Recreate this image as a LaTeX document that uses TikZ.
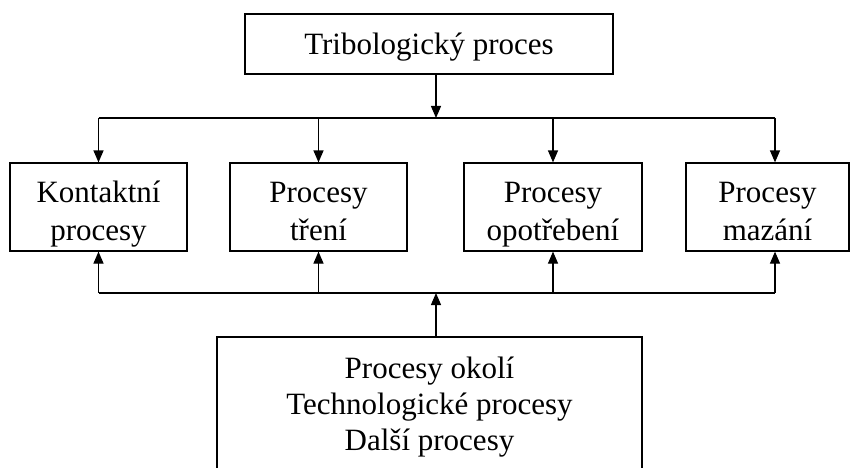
\documentclass[tikz,border=0pt]{standalone}
\usepackage{fontspec}
\setmainfont{Liberation Serif}
\usetikzlibrary{arrows.meta}
\newcommand{\firstln}[2]{\rule{0pt}{#1}\smash{#2}}
\newcommand{\lastln}[2]{\rule[-#1]{0pt}{#1}\smash{#2}}
\begin{document}
\begin{tikzpicture}[x=1pt,y=-1pt,
  box/.style={draw, line width=1.2pt, inner sep=0pt, align=center,
    font=\fontsize{31}{38}\selectfont},
  arr/.style={line width=1.2pt, -{Triangle[length=12pt,width=10pt]}},
  ln/.style={line width=1.2pt}]
\useasboundingbox (0,0) rectangle (851,468);
\fill[white] (0,0) rectangle (851,468);
\node[box, minimum width=368pt, minimum height=60pt] (top) at (429,44)
  {\rule[-4pt]{0pt}{30pt}\smash{Tribologický proces}};
\node[box, minimum width=177pt, minimum height=88pt] (b1) at (98.5,207)
  {\firstln{30pt}{Kontaktní}\\\lastln{2pt}{procesy}};
\node[box, minimum width=177pt, minimum height=88pt] (b2) at (318.5,207)
  {\firstln{30pt}{Procesy}\\\lastln{2pt}{tření}};
\node[box, minimum width=178pt, minimum height=88pt] (b3) at (553,207)
  {\firstln{30pt}{Procesy}\\\lastln{2pt}{opotřebení}};
\node[box, minimum width=163pt, minimum height=88pt] (b4) at (767.5,207)
  {\firstln{30pt}{Procesy}\\\lastln{2pt}{mazání}};
\node[box, font=\fontsize{31}{36}\selectfont, minimum width=425pt, minimum height=136pt] (bot) at (429.5,405)
  {\firstln{20pt}{Procesy okolí}\\Technologické procesy\\\lastln{2pt}{Další procesy}};
\coordinate (j) at (436,118);
\coordinate (bj) at (436,293);
\coordinate (c4) at (775,0);
% top distribution
\draw[arr] (top.south -| j) -- (j);
\draw[ln] (b1.north |- j) -- (c4 |- j);
\draw[arr] (b1.north |- j) -- (b1.north);
\draw[arr] (b2.north |- j) -- (b2.north);
\draw[arr] (b3.north |- j) -- (b3.north);
\draw[arr] (c4 |- j) -- (c4 |- b4.north);
% bottom collection
\draw[arr] (bot.north -| bj) -- (bj);
\draw[ln] (b1.south |- bj) -- (c4 |- bj);
\draw[arr] (b1.south |- bj) -- (b1.south);
\draw[arr] (b2.south |- bj) -- (b2.south);
\draw[arr] (b3.south |- bj) -- (b3.south);
\draw[arr] (c4 |- bj) -- (c4 |- b4.south);
\end{tikzpicture}
\end{document}
